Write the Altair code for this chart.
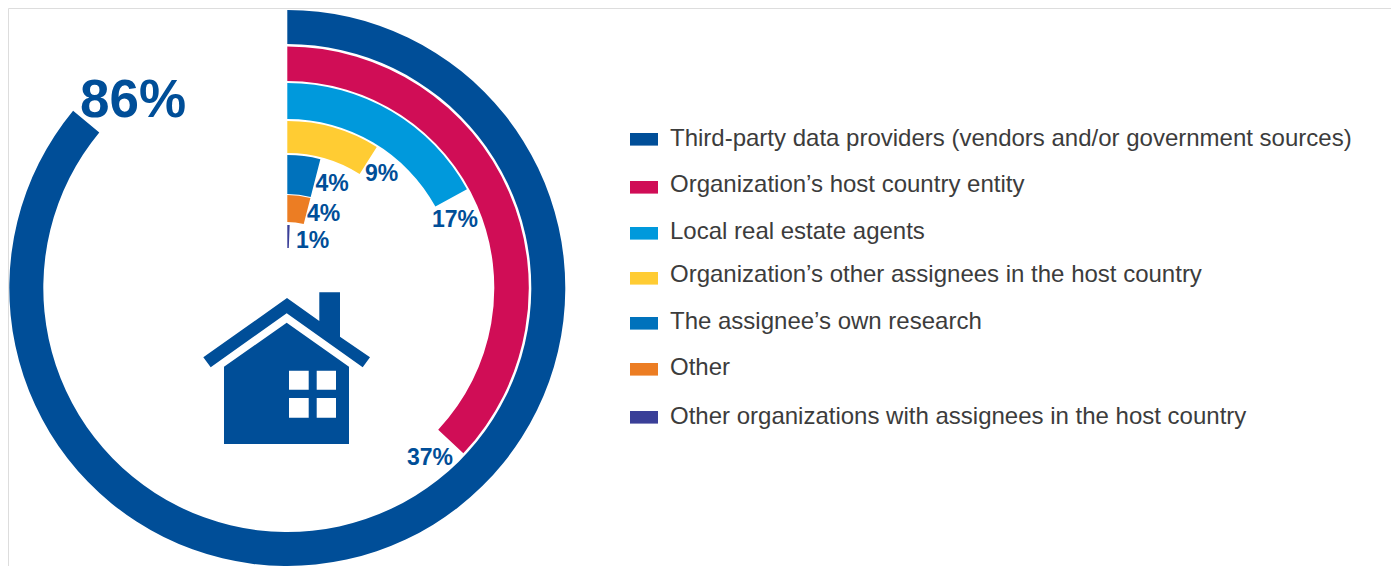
import altair as alt
import pandas as pd

# ---- data
categories = [
    "Third-party data providers (vendors and/or government sources)",
    "Organization\u2019s host country entity",
    "Local real estate agents",
    "Organization\u2019s other assignees in the host country",
    "The assignee\u2019s own research",
    "Other",
    "Other organizations with assignees in the host country",
]
values = [86, 37, 17, 9, 4, 4, 0.6]
value_labels = ["86%", "37%", "17%", "9%", "4%", "4%", "1%"]

# ---- styling and layout (page pixels)
colors = ["#004E98", "#D00D56", "#0099DC", "#FFCC33", "#0072BC", "#EC7D23", "#3A3F98"]
ring_outer = [278, 241.5, 205, 167, 133, 93, 63]
ring_inner = [244, 207, 169, 135, 94, 66, 40]
label_x = [80, 407, 432, 365, 315.5, 307, 296]
label_y = [117, 465, 227, 181, 190.5, 220.5, 248]
label_size = [53, 23, 23, 23, 23, 23, 23]
legend_swatch_y = [139.3, 187.3, 233.3, 278.3, 323.3, 369.3, 417.3]
legend_text_y = [138.5, 185, 231.5, 275, 321.5, 368, 416.5]

OFF = 8
CX, CY = 287.3 - OFF, 288 - OFF
W, H = 1383, 558

layers = []
for c, v, col, ro, ri in zip(categories, values, colors, ring_outer, ring_inner):
    layers.append(
        alt.Chart(pd.DataFrame({"category": [c], "value": [v]}))
        .mark_arc(radius=ro, radius2=ri, color=col)
        .encode(
            theta=alt.Theta("value:Q", stack=None,
                            scale=alt.Scale(domain=[0, 100], range=[0, 6.283185307])),
            theta2=alt.value(0),
            x=alt.value(CX),
            y=alt.value(CY),
        )
    )

# value labels
for t, x, y, s in zip(value_labels, label_x, label_y, label_size):
    layers.append(
        alt.Chart(pd.DataFrame({"t": [t]}))
        .mark_text(font="Liberation Sans", fontWeight="bold", fontSize=s, color="#004E98",
                   align="left", baseline="alphabetic")
        .encode(text="t:N", x=alt.value(x - OFF), y=alt.value(y - OFF))
    )

# legend
legend_df = pd.DataFrame({
    "category": categories,
    "color": colors,
    "sy": [y - OFF for y in legend_swatch_y],
    "ty": [y - OFF for y in legend_text_y],
})
layers.append(
    alt.Chart(legend_df)
    .mark_point(shape="M-1,-0.45H1V0.45H-1Z", filled=True, opacity=1, strokeWidth=0, size=28 * 28)
    .encode(
        x=alt.value(644 - OFF),
        y=alt.Y("sy:Q", scale=None, axis=None),
        color=alt.Color("color:N", scale=None),
    )
)
layers.append(
    alt.Chart(legend_df)
    .mark_text(font="Liberation Sans", fontSize=24, color="#3C3C3C", align="left", baseline="middle")
    .encode(
        x=alt.value(670 - OFF),
        y=alt.Y("ty:Q", scale=None, axis=None),
        text="category:N",
    )
)

# house icon (glyph outline, page pixels -> unit box)
HX, HY, HS = 287.0, 368.0, 85.0
outline = [
    [(287, 298), (319.3, 321), (319.3, 292.3), (340, 292.3), (340, 336.7), (370, 357.3),
     (362.7, 367.3), (286.7, 313.3), (210.7, 367.3), (203.3, 357.3)],
    [(286.7, 322.7), (349, 366.7), (349, 444), (224, 444), (224, 366.7)],
    [(289, 370.7), (289, 389.7), (308.7, 389.7), (308.7, 370.7)],
    [(316.7, 370.7), (316.7, 389.7), (336, 389.7), (336, 370.7)],
    [(289, 398), (289, 417.7), (308.7, 417.7), (308.7, 398)],
    [(316.7, 398), (316.7, 417.7), (336, 417.7), (336, 398)],
]
path = ""
for poly in outline:
    pts = [f"{(px - HX) / HS:.4f},{(py - HY) / HS:.4f}" for px, py in poly]
    path += "M" + "L".join(pts) + "Z"
layers.append(
    alt.Chart(pd.DataFrame({"k": ["house"]}))
    .mark_point(shape=path, filled=True, opacity=1, color="#004E98", strokeWidth=0, size=(2 * HS) ** 2)
    .encode(x=alt.value(HX - OFF), y=alt.value(HY - OFF))
)

chart = (
    alt.layer(*layers)
    .resolve_scale(theta="shared")
    .properties(width=W, height=H, padding=0)
    .configure_view(stroke=None)
    .configure(background="white")
)
chart.save("out.html", embed_options={"renderer": "svg", "actions": False})
